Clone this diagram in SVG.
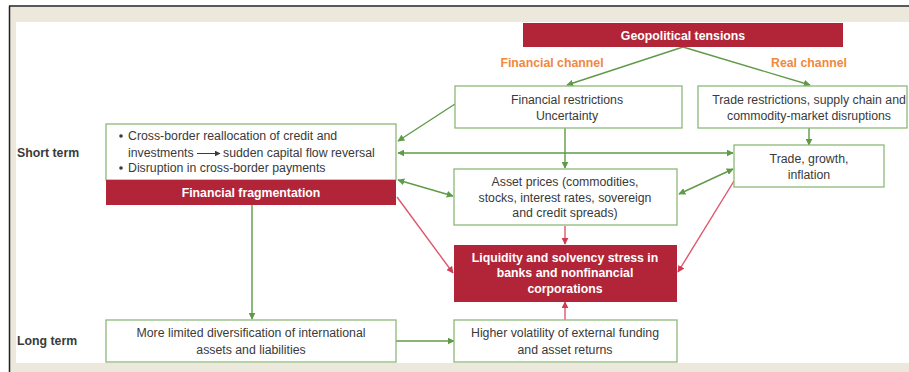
<svg xmlns="http://www.w3.org/2000/svg" width="909" height="372" viewBox="0 0 909 372">
<defs>
<style>
.t{font-family:"Liberation Sans",Arial,sans-serif;font-size:12.3px;fill:#3a3a3a;text-anchor:middle}
.tl{text-anchor:start}
.b{font-weight:bold}
.w{fill:#ffffff;font-weight:bold}
.o{fill:#f0883e;font-weight:bold}
.box{fill:#ffffff;stroke:#8cb878;stroke-width:1.3}
.red{fill:#b22538}
.g{stroke:#5f9a48;stroke-width:1.4;fill:none}
.r{stroke:#e0566a;stroke-width:1.4;fill:none}
</style>
<marker id="ag" viewBox="0 0 10 10" refX="9" refY="5" markerWidth="7" markerHeight="7" markerUnits="userSpaceOnUse" orient="auto-start-reverse"><path d="M0,0 L10,5 L0,10 z" fill="#5f9a48"/></marker>
<marker id="ar" viewBox="0 0 10 10" refX="9" refY="5" markerWidth="7" markerHeight="7" markerUnits="userSpaceOnUse" orient="auto-start-reverse"><path d="M0,0 L10,5 L0,10 z" fill="#d23a50"/></marker>
<marker id="at" viewBox="0 0 10 10" refX="9" refY="5" markerWidth="6" markerHeight="6" markerUnits="userSpaceOnUse" orient="auto"><path d="M0,0 L10,5 L0,10 z" fill="#3a3a3a"/></marker>
</defs>

<g id="frame">
<rect x="0" y="0" width="909" height="372" fill="#ffffff"/>
<rect x="10" y="7" width="899" height="15" fill="#ece9dc"/>
<rect x="10" y="7" width="6" height="365" fill="#ece9dc"/>
<rect x="10" y="363" width="899" height="9" fill="#ece9dc"/>
<line x1="9" y1="6" x2="909" y2="6" stroke="#222" stroke-width="1.5"/>
<line x1="9.5" y1="6" x2="9.5" y2="372" stroke="#222" stroke-width="1.5"/>
</g>

<g id="labels">
<text class="t tl b" x="17" y="157">Short term</text>
<text class="t tl b" x="17" y="345">Long term</text>
<text class="t o" x="552" y="67">Financial channel</text>
<text class="t o" x="809" y="67">Real channel</text>
</g>

<g id="connectors">
<line class="g" x1="683" y1="47" x2="567" y2="85" marker-end="url(#ag)"/>
<line class="g" x1="683" y1="47" x2="810" y2="85" marker-end="url(#ag)"/>
<line class="g" x1="565" y1="128" x2="565" y2="168" marker-end="url(#ag)"/>
<line class="g" x1="809" y1="128" x2="809" y2="145" marker-end="url(#ag)"/>
<line class="g" x1="455" y1="104" x2="398" y2="141" marker-end="url(#ag)"/>
<line class="g" x1="398" y1="153" x2="733" y2="153" marker-start="url(#ag)" marker-end="url(#ag)"/>
<line class="g" x1="398" y1="180" x2="453" y2="196" marker-start="url(#ag)" marker-end="url(#ag)"/>
<line class="g" x1="679" y1="194" x2="733" y2="169" marker-start="url(#ag)" marker-end="url(#ag)"/>
<line class="r" x1="397" y1="197" x2="453" y2="273" marker-end="url(#ar)"/>
<line class="r" x1="734" y1="181" x2="678" y2="272" marker-end="url(#ar)"/>
<line class="r" x1="565" y1="226" x2="565" y2="244" marker-end="url(#ar)"/>
<line class="r" x1="565" y1="320" x2="565" y2="302" marker-end="url(#ar)"/>
<line class="g" x1="252" y1="205" x2="252" y2="319" marker-end="url(#ag)"/>
<line class="g" x1="396" y1="341" x2="454" y2="341" marker-end="url(#ag)"/>
</g>

<g id="geopolitical">
<rect class="red" x="523" y="23" width="320" height="24"/>
<text class="t w" x="683" y="39.5">Geopolitical tensions</text>
</g>

<g id="financial-restrictions">
<rect class="box" x="455" y="86" width="227" height="42"/>
<text class="t" x="567" y="104">Financial restrictions</text>
<text class="t" x="567" y="120">Uncertainty</text>
</g>

<g id="trade-restrictions">
<rect class="box" x="698" y="86" width="209" height="42"/>
<text class="t" x="809" y="104">Trade restrictions, supply chain and</text>
<text class="t" x="809" y="120">commodity-market disruptions</text>
</g>

<g id="trade-growth">
<rect class="box" x="734" y="145" width="150" height="42"/>
<text class="t" x="809" y="163">Trade, growth,</text>
<text class="t" x="809" y="179">inflation</text>
</g>

<g id="cross-border">
<rect class="box" x="106" y="124" width="290" height="56"/>
<circle cx="121" cy="136" r="1.8" fill="#3a3a3a"/>
<text class="t tl" x="128" y="140">Cross-border reallocation of credit and</text>
<text class="t tl" x="128" y="157">investments</text>
<line x1="197" y1="153.5" x2="220" y2="153.5" stroke="#3a3a3a" stroke-width="1" marker-end="url(#at)"/>
<text class="t tl" x="223" y="157">sudden capital flow reversal</text>
<circle cx="121" cy="168" r="1.8" fill="#3a3a3a"/>
<text class="t tl" x="128" y="172">Disruption in cross-border payments</text>
</g>

<g id="financial-fragmentation">
<rect class="red" x="106" y="180" width="290" height="25"/>
<text class="t w" x="251" y="197">Financial fragmentation</text>
</g>

<g id="asset-prices">
<rect class="box" x="454" y="169" width="223" height="56"/>
<text class="t" x="565" y="186">Asset prices (commodities,</text>
<text class="t" x="565" y="202">stocks, interest rates, sovereign</text>
<text class="t" x="565" y="217">and credit spreads)</text>
</g>

<g id="liquidity-stress">
<rect class="red" x="454" y="245" width="223" height="57"/>
<text class="t w" x="565" y="262">Liquidity and solvency stress in</text>
<text class="t w" x="565" y="277">banks and nonfinancial</text>
<text class="t w" x="565" y="293">corporations</text>
</g>

<g id="more-limited">
<rect class="box" x="106" y="320" width="290" height="42"/>
<text class="t" x="251" y="337">More limited diversification of international</text>
<text class="t" x="251" y="354">assets and liabilities</text>
</g>

<g id="higher-volatility">
<rect class="box" x="454" y="320" width="223" height="42"/>
<text class="t" x="565" y="337">Higher volatility of external funding</text>
<text class="t" x="565" y="354">and asset returns</text>
</g>
</svg>
